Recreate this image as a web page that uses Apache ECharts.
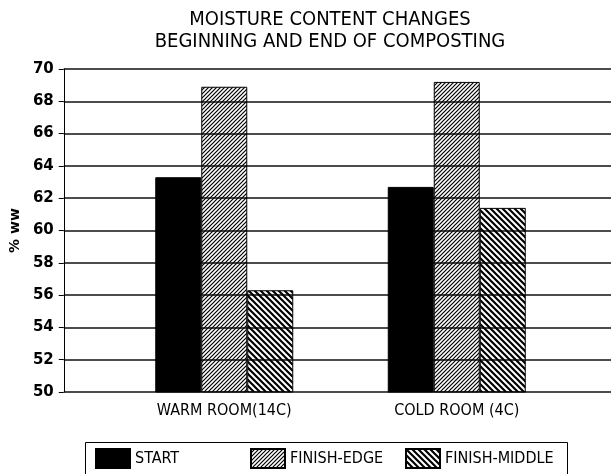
<!DOCTYPE html>
<html>
<head>
<meta charset="utf-8">
<title>Moisture content changes</title>
<script src="https://cdn.jsdelivr.net/npm/echarts@6/dist/echarts.min.js"></script>
<style>
  html, body { margin: 0; padding: 0; background: #fff; }
  #chart { width: 611px; height: 474px; }
</style>
</head>
<body>
<div id="chart"></div>
<script>
// values
var categories = ['WARM ROOM(14C)', 'COLD ROOM (4C)'];
var seriesNames = ['START', 'FINISH-EDGE', 'FINISH-MIDDLE'];
var startValues = [63.3, 62.7];
var edgeValues = [68.9, 69.2];
var middleValues = [56.3, 61.4];
var yMin = 50, yMax = 70, yStep = 2;

var font = 'DejaVu Sans Condensed';

// diagonal hatch tile, dir 1 = "/" , -1 = "\"
function hatch(step, lw, dir) {
  var c = document.createElement('canvas');
  c.width = step; c.height = step;
  var ctx = c.getContext('2d');
  ctx.strokeStyle = '#000';
  ctx.lineWidth = lw;
  ctx.beginPath();
  if (dir > 0) {
    ctx.moveTo(-1, step + 1); ctx.lineTo(step + 1, -1);
    ctx.moveTo(-2, 2); ctx.lineTo(2, -2);
    ctx.moveTo(step - 2, step + 2); ctx.lineTo(step + 2, step - 2);
  } else {
    ctx.moveTo(-1, -1); ctx.lineTo(step + 1, step + 1);
    ctx.moveTo(step - 2, -2); ctx.lineTo(step + 2, 2);
    ctx.moveTo(-2, step - 2); ctx.lineTo(2, step + 2);
  }
  ctx.stroke();
  return { image: c, repeat: 'repeat' };
}

var chart = echarts.init(document.getElementById('chart'));

var barStyle = { borderColor: '#000', borderWidth: 1 };

// one legend per item so the spacing matches the picture
var legendX = [95, 250, 405];
var legends = seriesNames.map(function (name, i) {
  return {
    data: [name],
    left: legendX[i],
    top: 448,
    padding: 0,
    itemWidth: 34,
    itemHeight: 19,
    icon: 'rect',
    textStyle: { fontFamily: font, fontSize: 16, color: '#000' }
  };
});

var option = {
  animation: false,
  backgroundColor: '#fff',
  title: {
    text: 'MOISTURE CONTENT CHANGES\nBEGINNING AND END OF COMPOSTING',
    left: 330,
    top: 9,
    textAlign: 'center',
    padding: 0,
    textStyle: { fontFamily: font, fontSize: 20, fontWeight: 'normal', color: '#000', lineHeight: 22 }
  },
  legend: legends,
  graphic: [
    // legend box
    {
      type: 'rect',
      shape: { x: 85.5, y: 442.5, width: 482, height: 40 },
      style: { fill: 'none', stroke: '#000', lineWidth: 1 },
      z: 0
    }
  ],
  grid: [
    // frame with the y axis and gridlines
    { left: 63, right: 0, top: 69, bottom: 82 },
    // bars sit in a narrower band
    { left: 108, width: 465, top: 69, bottom: 82 }
  ],
  xAxis: [
    { type: 'category', gridIndex: 0, data: categories, show: false },
    {
      type: 'category', gridIndex: 1, data: categories,
      axisLine: { show: false },
      axisTick: { show: false },
      axisLabel: { margin: 11, fontFamily: font, fontSize: 16, color: '#000' }
    }
  ],
  yAxis: [
    {
      type: 'value', gridIndex: 0, min: yMin, max: yMax, interval: yStep,
      name: '% ww',
      nameLocation: 'middle',
      nameGap: 40,
      nameRotate: 90,
      nameTextStyle: { fontFamily: 'DejaVu Sans', fontSize: 14, fontWeight: 'bold', color: '#000' },
      axisLine: { show: true, lineStyle: { color: '#000', width: 1 } },
      axisTick: { show: true, length: 5, lineStyle: { color: '#000' } },
      axisLabel: { margin: 10, fontFamily: 'DejaVu Sans', fontSize: 15, fontWeight: 'bold', color: '#000' },
      splitLine: { show: true, lineStyle: { color: '#111', width: 1.5 } }
    },
    { type: 'value', gridIndex: 1, min: yMin, max: yMax, interval: yStep, show: false, splitLine: { show: false } }
  ],
  series: [
    {
      name: seriesNames[0], type: 'bar', xAxisIndex: 1, yAxisIndex: 1,
      data: startValues, barWidth: 46, barGap: '0%',
      itemStyle: Object.assign({ color: '#000' }, barStyle)
    },
    {
      name: seriesNames[1], type: 'bar', xAxisIndex: 1, yAxisIndex: 1,
      data: edgeValues, barWidth: 46, barGap: '0%',
      itemStyle: Object.assign({ color: hatch(4, 1.2, 1) }, barStyle)
    },
    {
      name: seriesNames[2], type: 'bar', xAxisIndex: 1, yAxisIndex: 1,
      data: middleValues, barWidth: 46, barGap: '0%',
      itemStyle: Object.assign({ color: hatch(6, 2.2, -1) }, barStyle)
    }
  ]
};

chart.setOption(option);
</script>
</body>
</html>
